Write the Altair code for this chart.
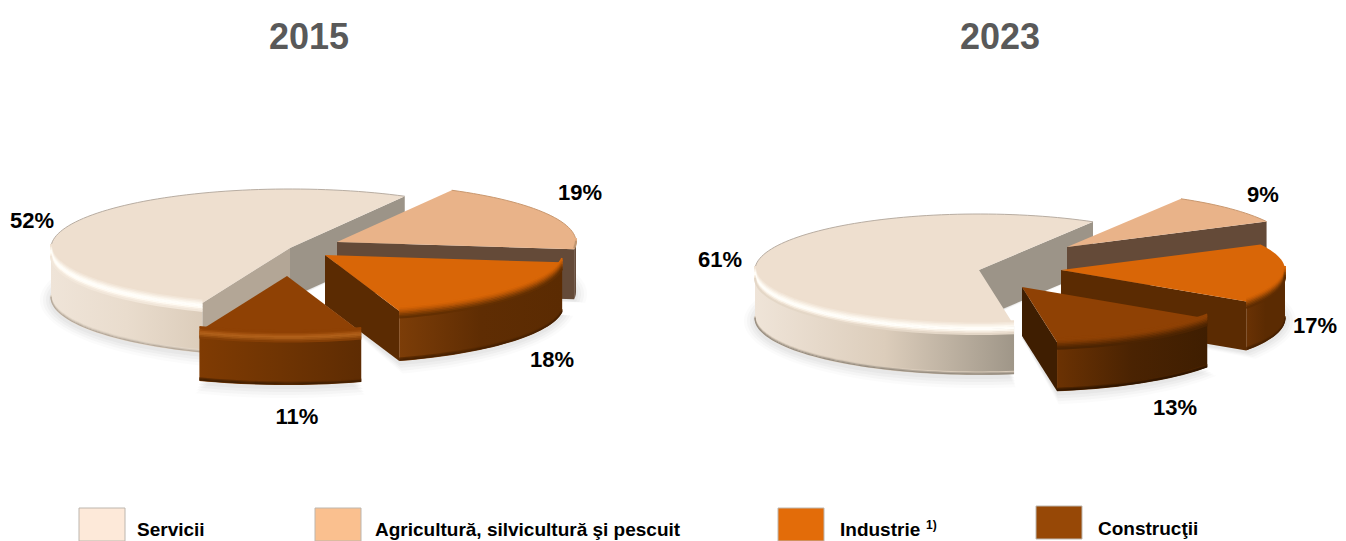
import math
import altair as alt

# ---- values
categories = ["Servicii", "Agricultură, silvicultură şi pescuit", "Industrie", "Construcţii"]
years = ["2015", "2023"]
shares_2015 = [52, 19, 18, 11]
shares_2023 = [61, 9, 17, 13]
swatch_colors = ["#FDE9D9", "#FAC08F", "#E36C09", "#974806"]

# ---- layout (page pixels)
M = 8
W, H = 1330, 533
FONT = "Liberation Sans"
RX = [239, 224]
RY = [59, 56]
DEPTH = [50, 49]
START = [201.5, 171.0]
APEX = [
    [(290, 248), (337, 242), (325, 255), (287, 276)],
    [(979, 270), (1067, 247), (1061, 270), (1022, 287)],
]
TITLE_X = [309, 1000]
TITLE_Y = 49
LABEL_POS = [
    [(32, 228), (580, 200), (552, 367), (297, 424)],
    [(720, 267), (1263, 202), (1315, 333), (1175, 415)],
]
SW_X = [79, 315, 778, 1036]
SW_Y = [508, 508, 508, 506]
SW_W = 46
SW_H = 33
LEG_X = [137, 375, 840, 1098]
LEG_Y = [536, 536, 536, 535]

# ---- styles, per pie and category
TOP = ["#EEDFCF", "#E9B389", "#D96607", "#8F4104"]
WALL_GRAD = [
    [["#EFE4D8", "#E9DCCD", "#DCCDBB"], ["#664C3A", "#664C3A"], ["#7C3D08", "#5F2D03", "#5B2B02"], ["#7F3B03", "#6F3403", "#5E2C03"]],
    [["#EFE4D8", "#DCCDBB", "#9F9688"], ["#644A38", "#644A38"], ["#6A3204", "#5B2B02", "#5B2B02"], ["#6B3203", "#4A2302", "#3F1E01"]],
]
START_WALL = [
    ["#B3A696", None, None, None],
    [None, None, None, None],
]
END_WALL = [
    ["#9C9488", "#644A38", "#5B2B02", None],
    ["#9C9488", "#644A38", "#5B2B02", "#3F1E01"],
]
BEVEL = [
    [
        ["#EEDFCF", "#F2E6D8", "#F7EEE3", "#FCF7EE", "#FFFDF8", "#FFFEFA", "#FFFBF3", "#F8EFE4", "#F2E7DA"],
        ["#E9B389", "#D8A67E", "#BE9570"],
        ["#D96607", "#D26206", "#C45B05", "#B25305", "#9C4904", "#853F04", "#723703", "#632F02"],
        ["#8F4104", "#8F4104", "#984909", "#A85612", "#B0601A", "#A85A16", "#964D0E", "#853F06"],
    ],
    [
        ["#EEDFCF", "#F2E6D8", "#F7EEE3", "#FCF7EE", "#FFFDF8", "#FFFEFA", "#FBF5EB", "#F0E4D6", "#E4D7C7"],
        ["#E9B389", "#D8A67E", "#BE9570"],
        ["#D96607", "#D26206", "#C45B05", "#AE5105", "#964704", "#7E3C03", "#6C3303", "#5E2C02"],
        ["#8F4104", "#8F4104", "#8A3F04", "#7F3A03", "#713403", "#622D02", "#552802", "#4C2402"],
    ],
]
BOTTOM = [
    [["#E2D6C7", "#CFC3B5", "#B5A99B"], None, ["#5B2B02", "#4F2502", "#452002"], ["#5E2C03", "#4A2302", "#3F1E01"]],
    [["#D9CBBA", "#B3A89A", "#988E81"], None, ["#5B2B02", "#4F2502", "#452002"], ["#4A2302", "#3A1B01", "#2E1501"]],
]
BACK_LINE = ["#B8ADA2", "#C9986F", None, None]


def pt(a, t, rx, ry, dy=0):
    r = math.radians(t)
    return [a[0] + rx * math.sin(r) - M, a[1] - ry * math.cos(r) - M + dy]


def arc(a, t0, t1, rx, ry, dy=0):
    n = max(2, int(abs(t1 - t0) / 2))
    return [pt(a, t0 + (t1 - t0) * i / n, rx, ry, dy) for i in range(n + 1)]


def poly(points):
    points = points + [points[0]]
    return {"type": "Feature", "properties": {}, "geometry": {"type": "Polygon", "coordinates": [points]}}


def line(points, color):
    return {"type": "Feature", "properties": {"c": color}, "geometry": {"type": "LineString", "coordinates": points}}


def grad(cols):
    n = len(cols) - 1
    return alt.Gradient(gradient="linear", x1=0, x2=1, y1=0, y2=0,
                        stops=[alt.GradientStop(color=c, offset=i / n) for i, c in enumerate(cols)])


PROJ = alt.Projection(type="identity", scale=1, translate=[0, 0])


def geo(feats, **mark):
    return alt.Chart(alt.InlineData(values=feats, format=alt.DataFormat(type="json"))).mark_geoshape(**mark).project(**PROJ.to_dict())


def lines(feats, width):
    return alt.Chart(alt.InlineData(values=feats, format=alt.DataFormat(type="json"))).mark_geoshape(
        filled=False, strokeWidth=width, strokeCap="butt"
    ).encode(stroke=alt.Stroke("properties.c:N", scale=None)).project(**PROJ.to_dict())


def overlap(t0, t1, lo, hi):
    # part of [t0, t1] inside [lo, hi], also trying full turns
    for k in (0, -360):
        a, b = max(t0 + k, lo), min(t1 + k, hi)
        if b > a:
            return a, b
    return None


layers = []
for p, shares in enumerate([shares_2015, shares_2023]):
    rx, ry, d = RX[p], RY[p], DEPTH[p]
    spans = []
    t = START[p]
    for s in shares:
        spans.append((t, t + s * 3.6))
        t += s * 3.6
    # soft ground shadow
    for k, op in [(11, 0.03), (8, 0.05), (5, 0.06), (2, 0.07)]:
        for c, (t0, t1) in enumerate(spans):
            a = APEX[p][c]
            layers.append(geo([poly([pt(a, 0, 0, 0, d + 2)] + arc(a, t0, t1, rx + k, ry + k, d + 2))],
                              fill="#8A8A8A", opacity=op, stroke=None))
    for c, (t0, t1) in enumerate(spans):
        a = APEX[p][c]
        ctr = pt(a, 0, 0, 0)
        ctr_b = pt(a, 0, 0, 0, d)
        if END_WALL[p][c]:
            e, eb = pt(a, t1, rx, ry), pt(a, t1, rx, ry, d)
            layers.append(geo([poly([ctr, e, eb, ctr_b])], fill=END_WALL[p][c], stroke=None))
        if START_WALL[p][c]:
            e, eb = pt(a, t0, rx, ry), pt(a, t0, rx, ry, d)
            layers.append(geo([poly([ctr, e, eb, ctr_b])], fill=START_WALL[p][c], stroke=None))
        front = overlap(t0, t1, 90, 270)
        if front:
            f0, f1 = front
            layers.append(geo([poly(arc(a, f0, f1, rx, ry) + arc(a, f1, f0, rx, ry, d))],
                              fill=grad(WALL_GRAD[p][c]), stroke=None))
            if BOTTOM[p][c]:
                layers.append(lines([line(arc(a, f0, f1, rx, ry, d - 3 + i), col)
                                     for i, col in enumerate(BOTTOM[p][c])], 1.2))
        layers.append(geo([poly([ctr] + arc(a, t0, t1, rx, ry))], fill=TOP[c], stroke=None))
        back = overlap(t0, t1, -90, 90) or overlap(t0, t1, 270, 450)
        if BACK_LINE[c] and back:
            layers.append(lines([line(arc(a, back[0], back[1], rx, ry), BACK_LINE[c])], 1))
        if front:
            layers.append(lines([line(arc(a, f0, f1, rx, ry, -4 + i * 1.5), col)
                                 for i, col in enumerate(BEVEL[p][c])], 2))

    # percentage labels
    rows = [{"t": f"{s}%", "x": LABEL_POS[p][c][0] - M, "y": LABEL_POS[p][c][1] - M} for c, s in enumerate(shares)]
    layers.append(alt.Chart(alt.Data(values=rows)).mark_text(
        font=FONT, fontWeight="bold", fontSize=22, color="#000000", align="center", baseline="alphabetic"
    ).encode(x=alt.X("x:Q", scale=None), y=alt.Y("y:Q", scale=None), text="t:N"))

# titles
rows = [{"t": y, "x": TITLE_X[i] - M, "y": TITLE_Y - M} for i, y in enumerate(years)]
layers.append(alt.Chart(alt.Data(values=rows)).mark_text(
    font=FONT, fontWeight="bold", fontSize=36, color="#595959", align="center", baseline="alphabetic"
).encode(x=alt.X("x:Q", scale=None), y=alt.Y("y:Q", scale=None), text="t:N"))

# legend
rows = [{"c": c, "x": SW_X[i] - M, "x2": SW_X[i] + SW_W - M, "y": SW_Y[i] - M, "y2": SW_Y[i] + SW_H - M,
         "lx": LEG_X[i] - M, "ly": LEG_Y[i] - M} for i, c in enumerate(categories)]
leg = alt.Chart(alt.Data(values=rows))
layers.append(leg.mark_rect(stroke="#BDB6AE", strokeWidth=1).encode(
    x=alt.X("x:Q", scale=None), x2="x2:Q", y=alt.Y("y:Q", scale=None), y2="y2:Q",
    fill=alt.Fill("c:N", scale=alt.Scale(domain=categories, range=swatch_colors), legend=None)))
layers.append(leg.mark_text(font=FONT, fontWeight="bold", fontSize=19, color="#000000", align="left",
                            baseline="alphabetic").encode(
    x=alt.X("lx:Q", scale=None), y=alt.Y("ly:Q", scale=None), text="c:N"))
layers.append(alt.Chart(alt.Data(values=[{"t": "1)", "x": 926 - M, "y": 529 - M}])).mark_text(
    font=FONT, fontWeight="bold", fontSize=12, color="#000000", align="left", baseline="alphabetic"
).encode(x=alt.X("x:Q", scale=None), y=alt.Y("y:Q", scale=None), text="t:N"))

chart = alt.layer(*layers).properties(width=W, height=H, padding=0, autosize="none", background="white").configure_view(stroke=None)
chart.save("out.html", embed_options={"renderer": "svg", "actions": False})
